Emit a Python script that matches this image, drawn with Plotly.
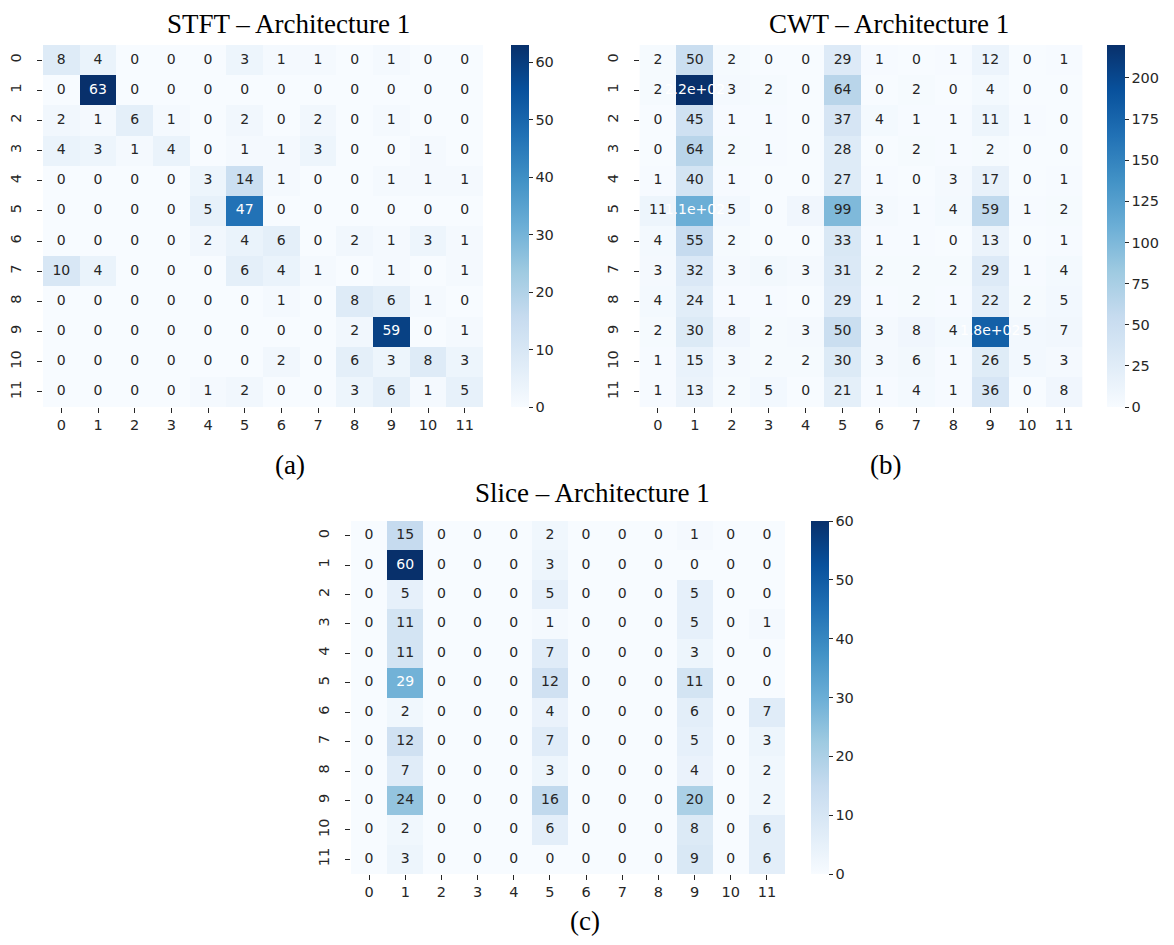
import plotly.graph_objects as go

# ---------------- data ----------------
classes = list(range(12))
tick_labels = [str(c) for c in classes]

stft_matrix = [
    [8, 4, 0, 0, 0, 3, 1, 1, 0, 1, 0, 0],
    [0, 63, 0, 0, 0, 0, 0, 0, 0, 0, 0, 0],
    [2, 1, 6, 1, 0, 2, 0, 2, 0, 1, 0, 0],
    [4, 3, 1, 4, 0, 1, 1, 3, 0, 0, 1, 0],
    [0, 0, 0, 0, 3, 14, 1, 0, 0, 1, 1, 1],
    [0, 0, 0, 0, 5, 47, 0, 0, 0, 0, 0, 0],
    [0, 0, 0, 0, 2, 4, 6, 0, 2, 1, 3, 1],
    [10, 4, 0, 0, 0, 6, 4, 1, 0, 1, 0, 1],
    [0, 0, 0, 0, 0, 0, 1, 0, 8, 6, 1, 0],
    [0, 0, 0, 0, 0, 0, 0, 0, 2, 59, 0, 1],
    [0, 0, 0, 0, 0, 0, 2, 0, 6, 3, 8, 3],
    [0, 0, 0, 0, 1, 2, 0, 0, 3, 6, 1, 5],
]

cwt_matrix = [
    [2, 50, 2, 0, 0, 29, 1, 0, 1, 12, 0, 1],
    [2, 220, 3, 2, 0, 64, 0, 2, 0, 4, 0, 0],
    [0, 45, 1, 1, 0, 37, 4, 1, 1, 11, 1, 0],
    [0, 64, 2, 1, 0, 28, 0, 2, 1, 2, 0, 0],
    [1, 40, 1, 0, 0, 27, 1, 0, 3, 17, 0, 1],
    [11, 110, 5, 0, 8, 99, 3, 1, 4, 59, 1, 2],
    [4, 55, 2, 0, 0, 33, 1, 1, 0, 13, 0, 1],
    [3, 32, 3, 6, 3, 31, 2, 2, 2, 29, 1, 4],
    [4, 24, 1, 1, 0, 29, 1, 2, 1, 22, 2, 5],
    [2, 30, 8, 2, 3, 50, 3, 8, 4, 180, 5, 7],
    [1, 15, 3, 2, 2, 30, 3, 6, 1, 26, 5, 3],
    [1, 13, 2, 5, 0, 21, 1, 4, 1, 36, 0, 8],
]

slice_matrix = [
    [0, 15, 0, 0, 0, 2, 0, 0, 0, 1, 0, 0],
    [0, 60, 0, 0, 0, 3, 0, 0, 0, 0, 0, 0],
    [0, 5, 0, 0, 0, 5, 0, 0, 0, 5, 0, 0],
    [0, 11, 0, 0, 0, 1, 0, 0, 0, 5, 0, 1],
    [0, 11, 0, 0, 0, 7, 0, 0, 0, 3, 0, 0],
    [0, 29, 0, 0, 0, 12, 0, 0, 0, 11, 0, 0],
    [0, 2, 0, 0, 0, 4, 0, 0, 0, 6, 0, 7],
    [0, 12, 0, 0, 0, 7, 0, 0, 0, 5, 0, 3],
    [0, 7, 0, 0, 0, 3, 0, 0, 0, 4, 0, 2],
    [0, 24, 0, 0, 0, 16, 0, 0, 0, 20, 0, 2],
    [0, 2, 0, 0, 0, 6, 0, 0, 0, 8, 0, 6],
    [0, 3, 0, 0, 0, 0, 0, 0, 0, 9, 0, 6],
]

titles = ["STFT \u2013 Architecture 1", "CWT \u2013 Architecture 1", "Slice \u2013 Architecture 1"]
captions = ["(a)", "(b)", "(c)"]
cbar_ticks = [list(range(0, 61, 10)), list(range(0, 201, 25)), list(range(0, 61, 10))]

# ---------------- style ----------------
# page body has an 8px margin: size the figure to fit and shift positions
OFF = 8
W, H = 1174 - OFF, 945 - 2 * OFF
blues_hex = ["#f7fbff", "#deebf7", "#c6dbef", "#9ecae1", "#6baed6",
             "#4292c6", "#2171b5", "#08519c", "#08306b"]
blues = [[i / 8, c] for i, c in enumerate(blues_hex)]
TXT_DARK = "#262626"
TICK_FONT = dict(family="DejaVu Sans", size=14.5, color=TXT_DARK)
TITLE_FONT = dict(family="Liberation Serif", size=27, color="black")


def px(x):
    return (x - OFF) / W


def py(y):
    return 1 - (y - OFF) / H


# page-pixel boxes: (left, right, top, bottom) for heatmap; colorbar left
# title / caption entries: (x, y, yanchor)
panels = [
    dict(box=(43, 483, 45, 407), cbx=511, title=(288, OFF, "top"), cap=(290, 465, "middle")),
    dict(box=(639.5, 1082.5, 45, 407), cbx=1107, title=(889, OFF, "top"), cap=(885, 465, "middle")),
    dict(box=(351, 785, 521, 874), cbx=811, title=(592, 493, "middle"), cap=(585, 945 - OFF, "bottom")),
]


def hex_rgb(h):
    h = h.lstrip("#")
    return [int(h[i:i + 2], 16) for i in (0, 2, 4)]


def blues_at(t):
    t = min(max(t, 0), 1) * 8
    i = min(int(t), 7)
    f = t - i
    a, b = hex_rgb(blues_hex[i]), hex_rgb(blues_hex[i + 1])
    return [a[k] + (b[k] - a[k]) * f for k in range(3)]


def rel_lum(rgb):
    out = []
    for c in rgb:
        c = c / 255
        out.append(c / 12.92 if c <= 0.03928 else ((c + 0.055) / 1.055) ** 2.4)
    return 0.2126 * out[0] + 0.7152 * out[1] + 0.0722 * out[2]


fig = go.Figure()
mats = [stft_matrix, cwt_matrix, slice_matrix]
for k, (mat, p) in enumerate(zip(mats, panels)):
    L, R, T, B = p["box"]
    xa = "x" if k == 0 else f"x{k+1}"
    ya = "y" if k == 0 else f"y{k+1}"
    zmax = max(max(r) for r in mat)
    fig.add_trace(go.Heatmap(
        z=mat, x=classes, y=classes, xaxis=xa, yaxis=ya,
        colorscale=blues, zmin=0, zmax=zmax, hoverinfo="skip",
        colorbar=dict(
            x=px(p["cbx"]), xanchor="left", xpad=0, ypad=0,
            y=py(T), yanchor="top", lenmode="pixels", len=B - T,
            thickness=18, thicknessmode="pixels", outlinewidth=0,
            tickvals=cbar_ticks[k], ticks="outside", ticklen=4,
            tickcolor=TXT_DARK, tickfont=TICK_FONT,
        ),
    ))
    xs, ys, txt, cols = [], [], [], []
    for r, row in enumerate(mat):
        for c, v in enumerate(row):
            xs.append(classes[c])
            ys.append(classes[r])
            txt.append(f"{v:.2g}")
            lum = rel_lum(blues_at(v / zmax))
            cols.append(TXT_DARK if lum > 0.408 else "white")
    fig.add_trace(go.Scatter(
        x=xs, y=ys, text=txt, mode="text", xaxis=xa, yaxis=ya,
        textfont=dict(family="DejaVu Sans", size=14, color=cols),
        hoverinfo="skip", showlegend=False,
    ))
    xkey = "xaxis" if k == 0 else f"xaxis{k+1}"
    ykey = "yaxis" if k == 0 else f"yaxis{k+1}"
    fig.layout[xkey] = dict(
        domain=[px(L), px(R)], anchor=ya, range=[-0.5, 11.5],
        tickvals=classes, ticktext=tick_labels, ticks="outside", ticklen=5,
        tickcolor=TXT_DARK, tickfont=TICK_FONT, showgrid=False, zeroline=False,
        showline=False, ticklabelstandoff=0,
    )
    fig.layout[ykey] = dict(
        domain=[py(B), py(T)], anchor=xa, range=[11.5, -0.5],
        tickvals=classes, ticktext=tick_labels, ticks="outside", ticklen=5,
        tickcolor=TXT_DARK, tickfont=TICK_FONT, tickangle=-90, showgrid=False,
        zeroline=False, showline=False, ticklabelstandoff=10,
    )
    for (tx, ty, anc), label in ((p["title"], titles[k]), (p["cap"], captions[k])):
        fig.add_annotation(text=label, x=px(tx), y=py(ty),
                           xref="paper", yref="paper", showarrow=False,
                           xanchor="center", yanchor=anc, borderpad=0,
                           font=TITLE_FONT)

fig.update_layout(
    width=W, height=H, autosize=False,
    margin=dict(l=0, r=0, t=0, b=0),
    paper_bgcolor="white", plot_bgcolor="white",
    showlegend=False,
)

fig.write_html("out.html")
